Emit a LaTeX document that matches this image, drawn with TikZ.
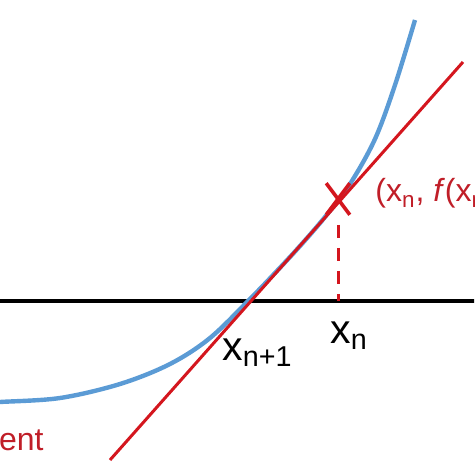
\documentclass[tikz,border=0pt]{standalone}
\usepackage{fontspec}
\setmainfont{Liberation Sans}
\usetikzlibrary{shapes.misc}
\definecolor{curveblue}{RGB}{91, 155, 213}
\definecolor{tanred}{RGB}{212, 22, 30}
\definecolor{labelred}{RGB}{192, 30, 40}

\begin{document}
\begin{tikzpicture}[
    x=0.5pt, y=-0.5pt,
    axisline/.style={line width=2pt, black},
    fcurve/.style={line width=2.2pt, color=curveblue},
    tanline/.style={line width=1.5pt, color=tanred},
    dropline/.style={line width=1.5pt, color=tanred, dash pattern=on 6.5pt off 5pt},
    blacklabel/.style={inner sep=0pt, font=\fontsize{20.5}{24}\selectfont},
    redlabel/.style={inner sep=0pt, text=labelred, font=\fontsize{16}{19}\selectfont}
  ]
  \clip (0,0) rectangle (474,474);

  % x axis
  \coordinate (axl) at (-5,301);
  \coordinate (axr) at (479,301);
  \draw[axisline] (axl) -- (axr);

  % the function
  \draw[fcurve] plot[smooth, tension=0.55] coordinates {
    (-10,403) (0,402) (60,398) (120,384) (170,364) (210,338) (250,299)
    (275,273) (300,246) (325,217) (350,184) (375,139) (395,85) (415,20)};

  % tangent through (x_n, f(x_n))
  \coordinate (tlow) at (110,460);
  \coordinate (thigh) at (463,62);
  \draw[tanline] (tlow) -- (thigh);

  \node[cross out, draw=tanred, line width=1.8pt, minimum width=10pt, minimum height=14pt,
        inner sep=0pt] (pt) at (338,199) {};
  \coordinate (droptop) at (338,225);
  \draw[dropline] (droptop) -- (droptop |- axl);

  \node[redlabel, anchor=base west] (ptlabel) at (375,202) {(x\textsubscript{n}, \textit{f}(x\textsubscript{n}))};
  \node[redlabel, anchor=base east] (tanlabel) at (44,450) {tangent};
  \node[blacklabel, anchor=base west] (xn) at (330,343) {x\textsubscript{n}};
  \node[blacklabel, anchor=base west] (xnext) at (222,360) {x\textsubscript{n+1}};
\end{tikzpicture}
\end{document}
